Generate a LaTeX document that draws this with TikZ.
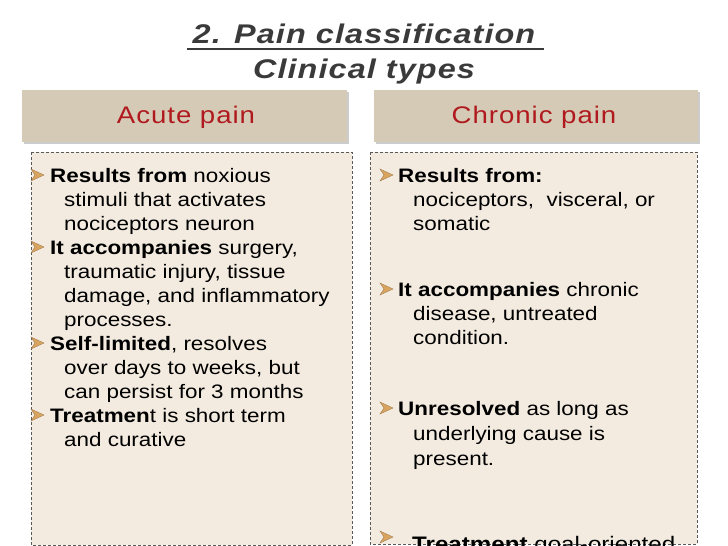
\documentclass[tikz,border=0pt]{standalone}
\usepackage{fontspec}
\setmainfont{Liberation Sans}
\newfontfamily\bodyf[FakeStretch=1.15]{Liberation Sans}
\newfontfamily\titf[FakeStretch=1.2,LetterSpace=4]{Liberation Sans}
\newfontfamily\hdrf[FakeStretch=1.15,LetterSpace=4]{Liberation Sans}
\begin{document}
\begin{tikzpicture}[x=1pt,y=-1pt,
 txt/.style={anchor=base west,inner sep=0pt,font=\bodyf\fontsize{19.5}{22}\selectfont},
 bx/.style={fill=boxc,draw=gray!70!black,densely dashed,line width=0.6pt},
 htxt/.style={font=\hdrf\fontsize{24}{26}\selectfont,text=redc},
 bul/.style={fill=bulc,draw=bulc!70!black,line width=0.3pt}]
\definecolor{hdrc}{HTML}{D5CAB6}
\definecolor{boxc}{HTML}{F3EBE0}
\definecolor{redc}{HTML}{B01A1E}
\definecolor{bulc}{HTML}{D9A460}
\definecolor{titc}{HTML}{3A3A3A}
\useasboundingbox (0,0) rectangle (728,546);
\fill[white] (0,0) rectangle (728,546);
\begin{scope}
\clip (0,0) rectangle (728,546);
% title
\node[font=\titf\bfseries\itshape\fontsize{27}{30}\selectfont,text=titc] (t1) at (364,34) {2. Pain classification};
\draw[titc,line width=1.4pt] (187,49) -- (544,49);
\node[font=\titf\bfseries\itshape\fontsize{27}{30}\selectfont,text=titc] (t2) at (364,72) {Clinical types};
% headers
\fill[gray!40] (24,92) rectangle (349,144);
\fill[hdrc] (22,90) rectangle (347,142);
\node[htxt] (ha) at (186,117) {Acute pain};
\fill[gray!40] (376,92) rectangle (700,144);
\fill[hdrc] (374,90) rectangle (698,142);
\node[htxt] (hc) at (534,117) {Chronic pain};
% boxes
\draw[bx] (31,152) rectangle (352,545);
\draw[bx] (370,152) rectangle (697,544);
% bullets
\foreach \x/\y in {31/175,31/247,31/343,31/415,380/175,380/289,380/408,380/537}{
  \fill[bul] (\x,\y-6) -- (\x+13,\y) -- (\x,\y+6) -- (\x+4,\y) -- cycle;}
% left text
\node[txt] (l1) at (50,182) {\textbf{Results from} noxious};
\node[txt] (l2) at (64,206) {stimuli that activates};
\node[txt] (l3) at (64,230) {nociceptors neuron};
\node[txt] (l4) at (50,254) {\textbf{It accompanies} surgery,};
\node[txt] (l5) at (64,278) {traumatic injury, tissue};
\node[txt] (l6) at (64,302) {damage, and inflammatory};
\node[txt] (l7) at (64,326) {processes.};
\node[txt] (l8) at (50,350) {\textbf{Self-limited}, resolves};
\node[txt] (l9) at (64,374) {over days to weeks, but};
\node[txt] (l10) at (64,398) {can persist for 3 months};
\node[txt] (l11) at (50,422) {\textbf{Treatmen}t is short term};
\node[txt] (l12) at (64,446) {and curative};
% right text
\node[txt] (r1) at (398,182) {\textbf{Results from:}};
\node[txt] (r2) at (413,206) {nociceptors,\ \ visceral, or};
\node[txt] (r3) at (413,230) {somatic};
\node[txt] (r4) at (398,296) {\textbf{It accompanies} chronic};
\node[txt] (r5) at (413,320) {disease, untreated};
\node[txt] (r6) at (413,344) {condition.};
\node[txt] (r7) at (398,415) {\textbf{Unresolved} as long as};
\node[txt] (r8) at (413,440) {underlying cause is};
\node[txt] (r9) at (413,465) {present.};
\node[txt,font=\bodyf\fontsize{21}{24}\selectfont] (r10) at (412,551) {\textbf{Treatment} goal-oriented};
\end{scope}
\end{tikzpicture}
\end{document}
